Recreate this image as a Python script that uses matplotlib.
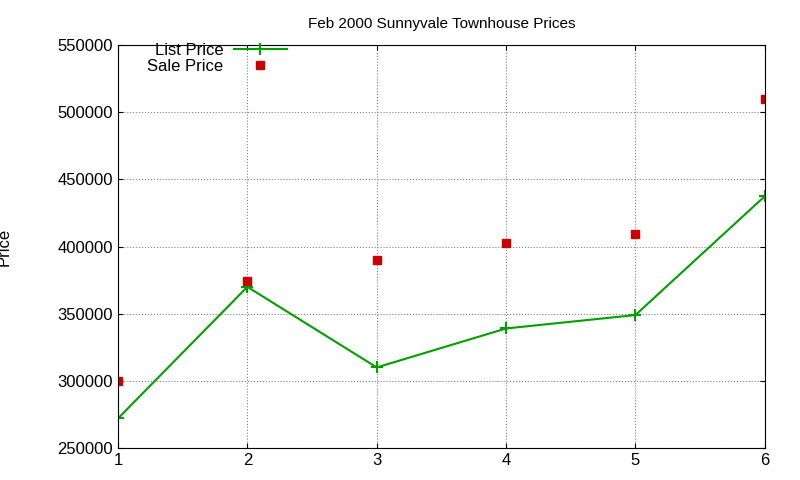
import matplotlib
matplotlib.use("Agg")
import matplotlib.pyplot as plt
import matplotlib.ticker as ticker

plt.rcParams['font.family'] = ['Liberation Sans', 'DejaVu Sans']
plt.rcParams['font.size'] = 12

# Данные
list_x = [1, 2, 3, 4, 5, 6]
list_price = [272000, 370000, 310000, 339000, 349000, 437500]
sale_x = [1, 2, 3, 4, 5, 6]
sale_price = [300000, 374000, 390000, 403000, 409000, 510000]

fig = plt.figure(figsize=(8, 4.8), dpi=100)
ax = fig.add_axes([0.1475, 0.0667, 0.8085, 0.8393])

ax.plot(list_x, list_price, color='#00a000', marker='+', markersize=8,
        markeredgewidth=1.5, linewidth=1.5, label='List Price')
ax.plot(sale_x, sale_price, 's', color='#cc0000', markersize=6,
        linestyle='none', label='Sale Price')

ax.set_xlim(1, 6)
ax.set_ylim(250000, 550000)
ax.xaxis.set_major_locator(ticker.MultipleLocator(1))
ax.yaxis.set_major_locator(ticker.MultipleLocator(50000))
ax.grid(True, linestyle=':', color='#808080', linewidth=0.8)
ax.tick_params(direction='in', top=True, right=True, labelsize=12)

ax.set_title('Feb 2000 Sunnyvale Townhouse Prices', fontsize=11, pad=12)
ax.set_ylabel('Price', fontsize=12)
ax.yaxis.set_label_coords(-0.165, 0.5)

ax.legend(loc='upper left', bbox_to_anchor=(0.03, 1.03), markerfirst=False,
          frameon=False, handlelength=3.2, handletextpad=0.6, fontsize=12,
          borderaxespad=0.2, labelspacing=0.05)

fig.savefig('out.png', dpi=100)
